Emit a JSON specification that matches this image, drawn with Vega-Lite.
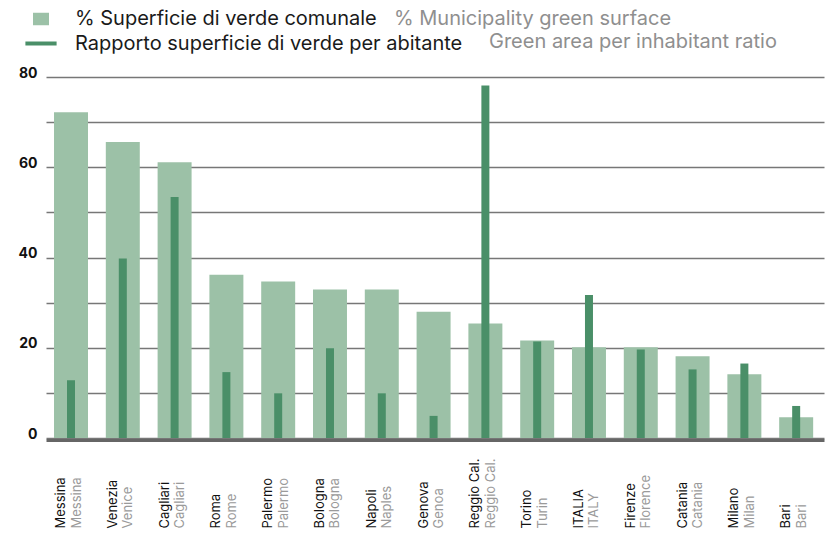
{
  "$schema": "https://vega.github.io/schema/vega-lite/v6.json",
  "width": 778,
  "height": 361,
  "autosize": {"type": "none"},
  "padding": {"left": 46, "top": 77, "right": 9, "bottom": 108},
  "background": "white",
  "config": {"font": "Inter", "view": {"stroke": null}},
  "data": {
    "values": [
      {"label": "Messina|Messina", "superficie": 72.2, "rapporto": 12.8},
      {"label": "Venezia|Venice", "superficie": 65.6, "rapporto": 39.8},
      {"label": "Cagliari|Cagliari", "superficie": 61.1, "rapporto": 53.4},
      {"label": "Roma|Rome", "superficie": 36.2, "rapporto": 14.6},
      {"label": "Palermo|Palermo", "superficie": 34.7, "rapporto": 9.9},
      {"label": "Bologna|Bologna", "superficie": 32.9, "rapporto": 19.9},
      {"label": "Napoli|Naples", "superficie": 32.9, "rapporto": 9.9},
      {"label": "Genova|Genoa", "superficie": 28.0, "rapporto": 4.9},
      {"label": "Reggio Cal.|Reggio Cal.", "superficie": 25.4, "rapporto": 78.1},
      {"label": "Torino|Turin", "superficie": 21.6, "rapporto": 21.4},
      {"label": "ITALIA|ITALY", "superficie": 20.1, "rapporto": 31.7},
      {"label": "Firenze|Florence", "superficie": 20.1, "rapporto": 19.6},
      {"label": "Catania|Catania", "superficie": 18.1, "rapporto": 15.2},
      {"label": "Milano|Milan", "superficie": 14.1, "rapporto": 16.5},
      {"label": "Bari|Bari", "superficie": 4.6, "rapporto": 7.1}
    ]
  },
  "layer": [
    {
      "mark": {"type": "bar"},
      "encoding": {
        "x": {
          "field": "label", "type": "nominal", "sort": null,
          "scale": {"paddingInner": 0.344, "paddingOuter": 0.182, "align": 0.425},
          "axis": {
            "orient": "bottom", "title": null,
            "labelExpr": "split(datum.value, '|')[0]",
            "labelAngle": -90, "labelAlign": "left", "labelBaseline": "middle",
            "labelOffset": -10, "labelPadding": 88, "labelColor": "#111111", "labelFontSize": 13,
            "ticks": false, "domainColor": "#666666", "domainWidth": 3, "offset": 2,
            "labelOverlap": false, "labelBound": false, "labelFlush": false
          }
        },
        "y": {
          "field": "superficie", "type": "quantitative",
          "scale": {"domain": [0, 80], "nice": false},
          "axis": {
            "title": null, "values": [0, 10, 20, 30, 40, 50, 60, 70, 80],
            "labelExpr": "datum.value % 20 === 0 ? datum.label : ''",
            "domain": false, "ticks": false, "labelFontWeight": "bold", "labelFontSize": 14,
            "labelColor": "#111111", "labelPadding": 9, "labelBaseline": "alphabetic",
            "grid": true, "gridColor": "#777777", "gridWidth": 1.5
          }
        },
        "color": {
          "datum": "% Superficie di verde comunale", "type": "nominal",
          "scale": {"domain": ["% Superficie di verde comunale", "Rapporto superficie di verde per abitante"], "range": ["#9cc1a7", "#4a8f68"]},
          "legend": {
            "title": null, "orient": "none", "legendX": -15, "legendY": -68, "direction": "vertical",
            "symbolSize": 256, "symbolStrokeWidth": 0, "labelFontSize": 20, "labelColor": "#1a1a1a",
            "labelOffset": 24, "rowPadding": 4.5, "padding": 0, "labelLimit": 1000,
            "encode": {"symbols": {"update": {"shape": {"signal": "datum.value === '% Superficie di verde comunale' ? 'M-1,-0.78H1V0.78H-1Z' : 'M-1.95,-0.25H1.95V0.25H-1.95Z'"}}}}
          }
        },
        "opacity": {
          "datum": "% Municipality green surface", "type": "nominal",
          "scale": {"domain": ["% Municipality green surface"], "range": [1]},
          "legend": {
            "title": null, "orient": "none", "legendX": 328, "legendY": -68,
            "symbolSize": 0, "symbolOpacity": 0, "symbolStrokeWidth": 0, "labelOffset": 0,
            "labelFontSize": 20, "labelColor": "#8f8f8f", "padding": 0, "labelLimit": 1000
          }
        },
        "strokeWidth": {
          "datum": "Green area per inhabitant ratio", "type": "nominal",
          "scale": {"domain": ["Green area per inhabitant ratio"], "range": [0]},
          "legend": {
            "title": null, "orient": "none", "legendX": 443, "legendY": -35,
            "symbolSize": 0, "symbolOpacity": 0, "symbolStrokeWidth": 0, "labelOffset": 0,
            "labelFontSize": 20, "labelColor": "#8f8f8f", "padding": 0, "labelLimit": 1000
          }
        }
      }
    },
    {
      "mark": {"type": "bar", "size": 8},
      "encoding": {
        "x": {
          "field": "label", "type": "nominal", "sort": null,
          "axis": {
            "orient": "bottom", "title": null,
            "labelExpr": "split(datum.value, '|')[1]",
            "labelAngle": -90, "labelAlign": "left", "labelBaseline": "middle",
            "labelOffset": 5.5, "labelPadding": 88, "labelColor": "#9a9a9a", "labelFontSize": 13,
            "ticks": false, "domain": false, "offset": 2,
            "labelOverlap": false, "labelBound": false, "labelFlush": false
          }
        },
        "y": {"field": "rapporto", "type": "quantitative"},
        "color": {"datum": "Rapporto superficie di verde per abitante", "type": "nominal"}
      }
    }
  ],
  "resolve": {"axis": {"x": "independent"}}
}
